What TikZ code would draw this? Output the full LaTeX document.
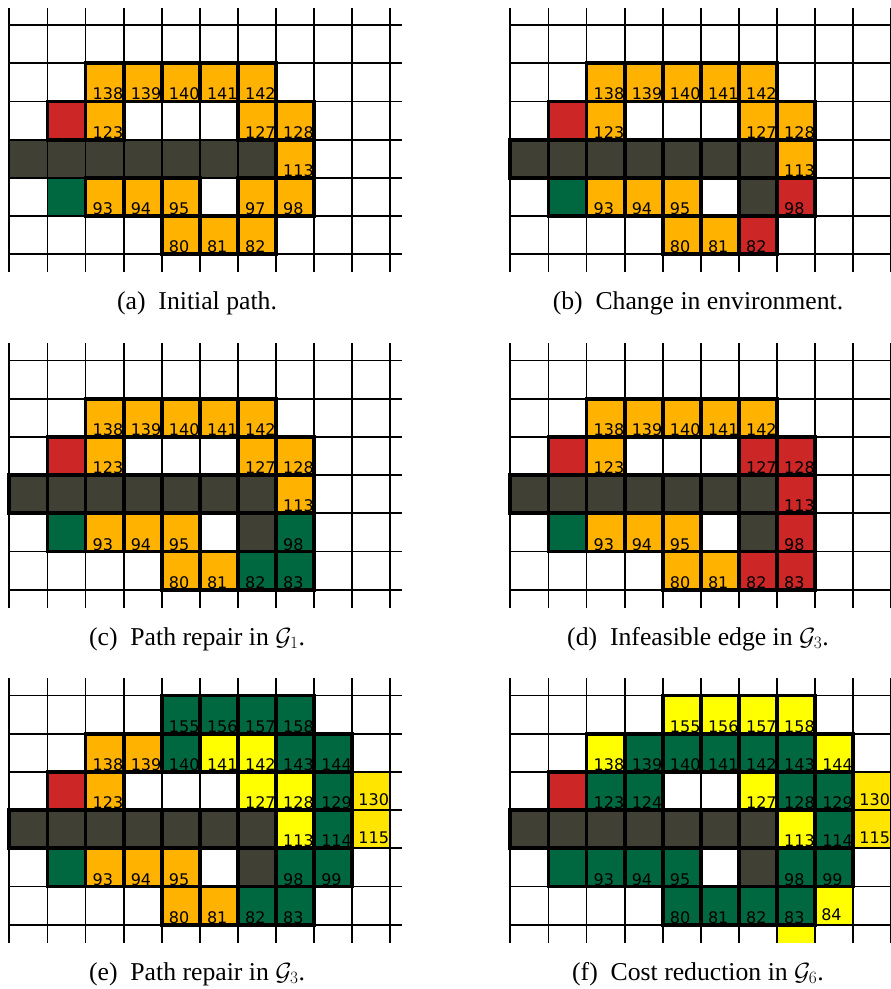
\documentclass[tikz,border=0pt]{standalone}
\usepackage{fontspec}
\setmainfont{Liberation Serif}
\newfontfamily\numfont{DejaVu Sans}
\usetikzlibrary{calc}

\definecolor{pathorange}{RGB}{255,178,0}
\definecolor{startred}{RGB}{204,38,38}
\definecolor{goalgreen}{RGB}{0,104,64}
\definecolor{wallgrey}{RGB}{64,64,52}
\definecolor{openyellow}{RGB}{255,255,0}
\definecolor{goldyellow}{RGB}{255,229,0}

\tikzset{
  gridline/.style={line width=1.8pt, draw=black},
  heavy line/.style={line width=3.8pt, draw=black},
  light line/.style={draw=none},
  lift line/.style={draw=none},
  heavy num/.style={anchor=base west, inner sep=0pt, xshift=7pt, yshift=1.5pt,
    font=\numfont\fontsize{16}{19}\selectfont},
  light num/.style={heavy num},
  lift num/.style={heavy num, xshift=-1pt, yshift=3pt},
  caption/.style={anchor=base, inner sep=0pt, font=\fontsize{25.7}{30}\selectfont}
}

% one grid of cells: col/row/colour/label/kind
\newcommand{\gridpanel}[1]{%
  \begin{scope}
    \clip (-0.2,-0.45) rectangle (10.4,6.47);
    \foreach \i in {0,...,10} \draw[gridline] (\i,-0.45) -- (\i,6.47);
    \foreach \j in {0,...,6} \draw[gridline] (0,\j) -- (10.3,\j);
    \foreach \cx/\ry/\col/\lab/\k in {#1}
      \filldraw[gridline, fill=\col] (\cx,\ry) rectangle ++(1,1);
    \foreach \cx/\ry/\col/\lab/\k in {#1}
      \node[\k\space num] at (\cx,\ry+1) {\lab};
    \foreach \cx/\ry/\col/\lab/\k in {#1}
      \draw[\k\space line] (\cx,\ry) rectangle ++(1,1);
  \end{scope}}

\begin{document}
\begin{tikzpicture}[x=1pt, y=-1pt]
  \useasboundingbox (0,0) rectangle (891,989);

  % (a)
  \begin{scope}[shift={(9.3,25)}, x=38.1pt, y=-38.2pt]
    \gridpanel{1/2/startred/{}/heavy, 1/4/goalgreen/{}/light,
      0/3/wallgrey/{}/light, 1/3/wallgrey/{}/light, 2/3/wallgrey/{}/light,
      3/3/wallgrey/{}/light, 4/3/wallgrey/{}/light, 5/3/wallgrey/{}/light,
      6/3/wallgrey/{}/light,
      2/1/pathorange/138/heavy, 3/1/pathorange/139/heavy, 4/1/pathorange/140/heavy,
      5/1/pathorange/141/heavy, 6/1/pathorange/142/heavy,
      2/2/pathorange/123/heavy, 6/2/pathorange/127/heavy, 7/2/pathorange/128/heavy,
      7/3/pathorange/113/heavy,
      2/4/pathorange/93/heavy, 3/4/pathorange/94/heavy, 4/4/pathorange/95/heavy,
      6/4/pathorange/97/heavy, 7/4/pathorange/98/heavy,
      4/5/pathorange/80/heavy, 5/5/pathorange/81/heavy, 6/5/pathorange/82/heavy}
  \end{scope}
  \node[caption] (capa) at (197,309) {(a)\enspace Initial path.};

  % (b)
  \begin{scope}[shift={(510.3,25)}, x=38.1pt, y=-38.2pt]
    \gridpanel{1/2/startred/{}/heavy, 1/4/goalgreen/{}/heavy,
      0/3/wallgrey/{}/heavy, 1/3/wallgrey/{}/heavy, 2/3/wallgrey/{}/heavy,
      3/3/wallgrey/{}/heavy, 4/3/wallgrey/{}/heavy, 5/3/wallgrey/{}/heavy,
      6/3/wallgrey/{}/heavy, 6/4/wallgrey/{}/heavy,
      2/1/pathorange/138/heavy, 3/1/pathorange/139/heavy, 4/1/pathorange/140/heavy,
      5/1/pathorange/141/heavy, 6/1/pathorange/142/heavy,
      2/2/pathorange/123/heavy, 6/2/pathorange/127/heavy, 7/2/pathorange/128/heavy,
      7/3/pathorange/113/heavy,
      2/4/pathorange/93/heavy, 3/4/pathorange/94/heavy, 4/4/pathorange/95/heavy,
      7/4/startred/98/heavy,
      4/5/pathorange/80/heavy, 5/5/pathorange/81/heavy, 6/5/startred/82/heavy}
  \end{scope}
  \node[caption] (capb) at (698,309) {(b)\enspace Change in environment.};

  % (c)
  \begin{scope}[shift={(9.3,360.5)}, x=38.1pt, y=-38.2pt]
    \gridpanel{1/2/startred/{}/heavy, 1/4/goalgreen/{}/heavy,
      0/3/wallgrey/{}/heavy, 1/3/wallgrey/{}/heavy, 2/3/wallgrey/{}/heavy,
      3/3/wallgrey/{}/heavy, 4/3/wallgrey/{}/heavy, 5/3/wallgrey/{}/heavy,
      6/3/wallgrey/{}/heavy, 6/4/wallgrey/{}/heavy,
      2/1/pathorange/138/heavy, 3/1/pathorange/139/heavy, 4/1/pathorange/140/heavy,
      5/1/pathorange/141/heavy, 6/1/pathorange/142/heavy,
      2/2/pathorange/123/heavy, 6/2/pathorange/127/heavy, 7/2/pathorange/128/heavy,
      7/3/pathorange/113/heavy,
      2/4/pathorange/93/heavy, 3/4/pathorange/94/heavy, 4/4/pathorange/95/heavy,
      7/4/goalgreen/98/heavy,
      4/5/pathorange/80/heavy, 5/5/pathorange/81/heavy, 6/5/goalgreen/82/heavy,
      7/5/goalgreen/83/heavy}
  \end{scope}
  \node[caption] (capc) at (197,645) {(c)\enspace Path repair in $\mathcal{G}_1$.};

  % (d)
  \begin{scope}[shift={(510.3,360.5)}, x=38.1pt, y=-38.2pt]
    \gridpanel{1/2/startred/{}/heavy, 1/4/goalgreen/{}/heavy,
      0/3/wallgrey/{}/heavy, 1/3/wallgrey/{}/heavy, 2/3/wallgrey/{}/heavy,
      3/3/wallgrey/{}/heavy, 4/3/wallgrey/{}/heavy, 5/3/wallgrey/{}/heavy,
      6/3/wallgrey/{}/heavy, 6/4/wallgrey/{}/heavy,
      2/1/pathorange/138/heavy, 3/1/pathorange/139/heavy, 4/1/pathorange/140/heavy,
      5/1/pathorange/141/heavy, 6/1/pathorange/142/heavy,
      2/2/pathorange/123/heavy, 6/2/startred/127/heavy, 7/2/startred/128/heavy,
      7/3/startred/113/heavy,
      2/4/pathorange/93/heavy, 3/4/pathorange/94/heavy, 4/4/pathorange/95/heavy,
      7/4/startred/98/heavy,
      4/5/pathorange/80/heavy, 5/5/pathorange/81/heavy, 6/5/startred/82/heavy,
      7/5/startred/83/heavy}
  \end{scope}
  \node[caption] (capd) at (698,645) {(d)\enspace Infeasible edge in $\mathcal{G}_3$.};

  % (e)
  \begin{scope}[shift={(9.3,695.5)}, x=38.1pt, y=-38.2pt]
    \gridpanel{1/2/startred/{}/heavy, 1/4/goalgreen/{}/heavy,
      0/3/wallgrey/{}/heavy, 1/3/wallgrey/{}/heavy, 2/3/wallgrey/{}/heavy,
      3/3/wallgrey/{}/heavy, 4/3/wallgrey/{}/heavy, 5/3/wallgrey/{}/heavy,
      6/3/wallgrey/{}/heavy, 6/4/wallgrey/{}/heavy,
      4/0/goalgreen/155/heavy, 5/0/goalgreen/156/heavy, 6/0/goalgreen/157/heavy,
      7/0/goalgreen/158/heavy,
      2/1/pathorange/138/heavy, 3/1/pathorange/139/heavy, 4/1/goalgreen/140/heavy,
      5/1/openyellow/141/heavy, 6/1/openyellow/142/heavy, 7/1/goalgreen/143/heavy,
      8/1/goalgreen/144/heavy,
      2/2/pathorange/123/heavy, 6/2/openyellow/127/heavy, 7/2/openyellow/128/heavy,
      8/2/goalgreen/129/heavy, 9/2/goldyellow/130/lift,
      7/3/openyellow/113/heavy, 8/3/goalgreen/114/heavy, 9/3/goldyellow/115/lift,
      2/4/pathorange/93/heavy, 3/4/pathorange/94/heavy, 4/4/pathorange/95/heavy,
      7/4/goalgreen/98/heavy, 8/4/goalgreen/99/heavy,
      4/5/pathorange/80/heavy, 5/5/pathorange/81/heavy, 6/5/goalgreen/82/heavy,
      7/5/goalgreen/83/heavy}
  \end{scope}
  \node[caption] (cape) at (197,980) {(e)\enspace Path repair in $\mathcal{G}_3$.};

  % (f)
  \begin{scope}[shift={(510.3,695.5)}, x=38.1pt, y=-38.2pt]
    \gridpanel{1/2/startred/{}/heavy, 1/4/goalgreen/{}/heavy,
      0/3/wallgrey/{}/heavy, 1/3/wallgrey/{}/heavy, 2/3/wallgrey/{}/heavy,
      3/3/wallgrey/{}/heavy, 4/3/wallgrey/{}/heavy, 5/3/wallgrey/{}/heavy,
      6/3/wallgrey/{}/heavy, 6/4/wallgrey/{}/heavy,
      4/0/openyellow/155/heavy, 5/0/openyellow/156/heavy, 6/0/openyellow/157/heavy,
      7/0/openyellow/158/heavy,
      2/1/openyellow/138/heavy, 3/1/goalgreen/139/heavy, 4/1/goalgreen/140/heavy,
      5/1/goalgreen/141/heavy, 6/1/goalgreen/142/heavy, 7/1/goalgreen/143/heavy,
      8/1/openyellow/144/heavy,
      2/2/goalgreen/123/heavy, 3/2/goalgreen/124/heavy, 6/2/openyellow/127/heavy,
      7/2/goalgreen/128/heavy, 8/2/goalgreen/129/heavy, 9/2/goldyellow/130/lift,
      7/3/openyellow/113/heavy, 8/3/goalgreen/114/heavy, 9/3/goldyellow/115/lift,
      2/4/goalgreen/93/heavy, 3/4/goalgreen/94/heavy, 4/4/goalgreen/95/heavy,
      7/4/goalgreen/98/heavy, 8/4/goalgreen/99/heavy,
      4/5/goalgreen/80/heavy, 5/5/goalgreen/81/heavy, 6/5/goalgreen/82/heavy,
      7/5/goalgreen/83/heavy, 8/5/openyellow/84/lift, 7/6/openyellow/{}/lift}
  \end{scope}
  \node[caption] (capf) at (698,980) {(f)\enspace Cost reduction in $\mathcal{G}_6$.};
\end{tikzpicture}
\end{document}
